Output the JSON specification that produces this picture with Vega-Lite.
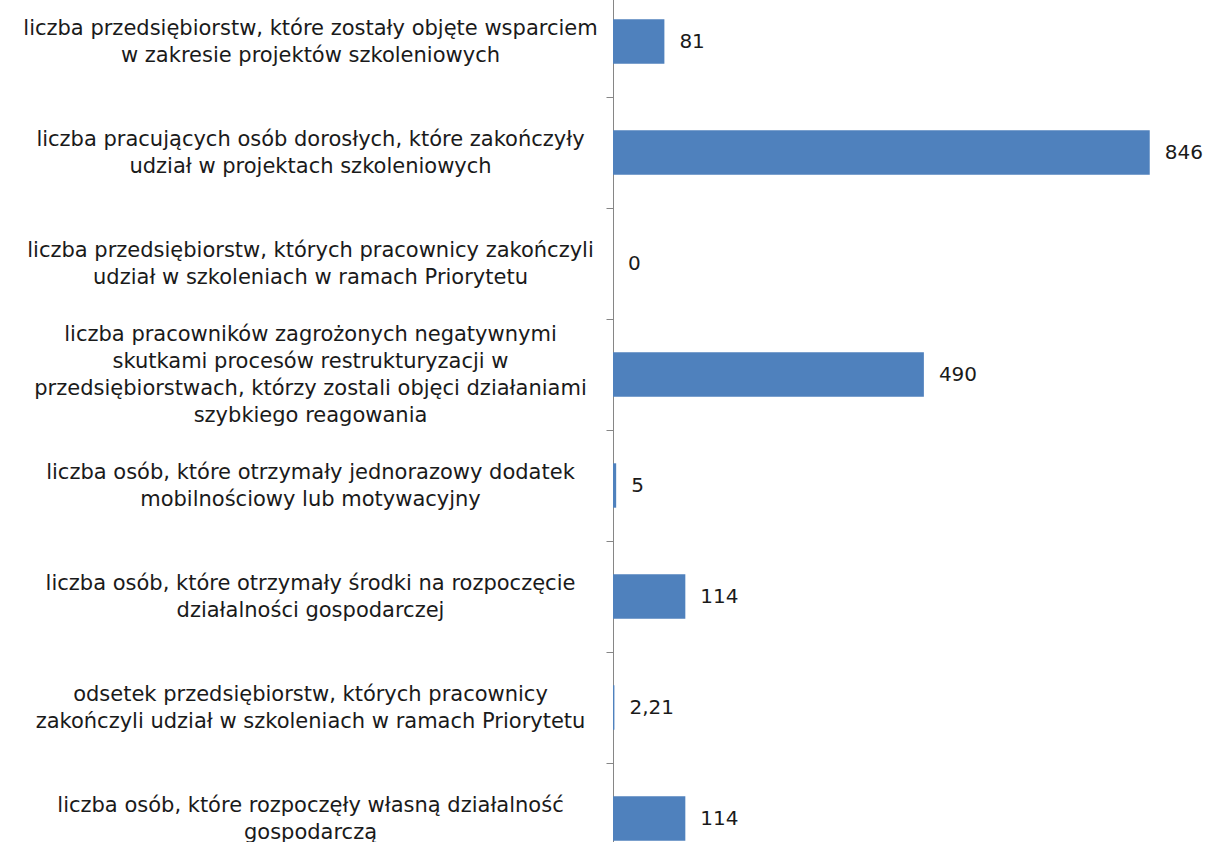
{
  "$schema": "https://vega.github.io/schema/vega-lite/v6.json",
  "autosize": "none",
  "width": 571,
  "height": 888,
  "padding": {"left": 613, "top": -14, "right": 25, "bottom": 0},
  "background": "white",
  "config": {"view": {"stroke": null}, "font": "DejaVu Sans"},
  "data": {
    "values": [
      {"kategoria": "liczba przedsiębiorstw, które zostały objęte wsparciem|w zakresie projektów szkoleniowych", "wartosc": 81, "etykieta": "81"},
      {"kategoria": "liczba pracujących osób dorosłych, które zakończyły|udział w projektach szkoleniowych", "wartosc": 846, "etykieta": "846"},
      {"kategoria": "liczba przedsiębiorstw, których pracownicy zakończyli|udział w szkoleniach w ramach Priorytetu", "wartosc": 0, "etykieta": "0"},
      {"kategoria": "liczba pracowników zagrożonych negatywnymi|skutkami procesów restrukturyzacji w|przedsiębiorstwach, którzy zostali objęci działaniami|szybkiego reagowania", "wartosc": 490, "etykieta": "490"},
      {"kategoria": "liczba osób, które otrzymały jednorazowy dodatek|mobilnościowy lub motywacyjny", "wartosc": 5, "etykieta": "5"},
      {"kategoria": "liczba osób, które otrzymały środki na rozpoczęcie|działalności gospodarczej", "wartosc": 114, "etykieta": "114"},
      {"kategoria": "odsetek przedsiębiorstw, których pracownicy|zakończyli udział w szkoleniach w ramach Priorytetu", "wartosc": 2.21, "etykieta": "2,21"},
      {"kategoria": "liczba osób, które rozpoczęły własną działalność|gospodarczą", "wartosc": 114, "etykieta": "114"}
    ]
  },
  "encoding": {
    "y": {
      "field": "kategoria",
      "type": "nominal",
      "sort": null,
      "scale": {"paddingInner": 0.6, "paddingOuter": 0.3},
      "axis": {
        "title": null,
        "labelExpr": "split(datum.label, '|')",
        "labelAlign": "center",
        "labelBaseline": "middle",
        "labelPadding": 296,
        "labelOffset": {"condition": {"test": "length(split(datum.label, '|')) == 4", "value": -96}, "value": -69},
        "labelFontSize": 21,
        "labelFont": "DejaVu Sans",
        "labelColor": "#1a1a1a",
        "labelLineHeight": 27,
        "labelLimit": 0,
        "tickOffset": 55.5,
        "tickSize": 7,
        "tickColor": "#868686",
        "domainColor": "#868686",
        "domainWidth": 1
      }
    },
    "x": {
      "field": "wartosc",
      "type": "quantitative",
      "scale": {"domain": [0, 900], "nice": false},
      "axis": null
    }
  },
  "layer": [
    {"mark": {"type": "bar", "color": "#4F81BD"}},
    {
      "mark": {"type": "text", "align": "left", "baseline": "middle", "dx": 15, "fontSize": 20, "font": "DejaVu Sans", "color": "#1a1a1a"},
      "encoding": {"text": {"field": "etykieta"}}
    }
  ]
}
